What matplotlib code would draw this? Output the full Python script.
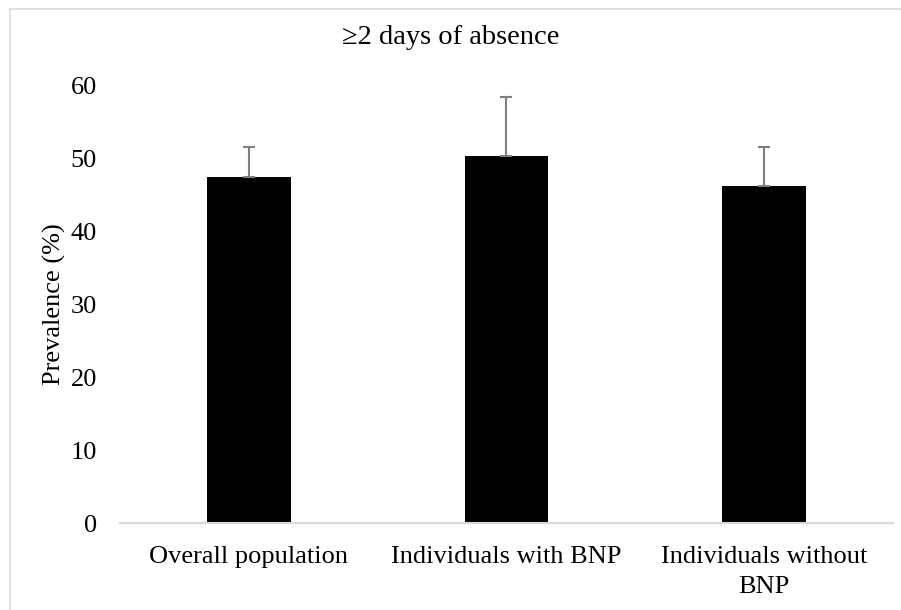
import matplotlib
matplotlib.use('Agg')
import matplotlib.pyplot as plt
from matplotlib.lines import Line2D

categories = ['Overall population', 'Individuals with BNP', 'Individuals without\nBNP']
prevalence = [47.5, 50.4, 46.3]
upper_err = [4.1, 8.1, 5.3]
y_ticks = [0, 10, 20, 30, 40, 50, 60]

plt.rcParams['font.family'] = ['Liberation Serif', 'DejaVu Serif']

W, H = 901, 610
fig = plt.figure(figsize=(W / 100, H / 100), dpi=100)
ax = fig.add_axes([120 / W, 87 / H, 773 / W, 437 / H])

# chart area border, only top and left edges show in the picture
border = dict(transform=fig.transFigure, color='#d9d9d9', linewidth=1.2)
fig.lines.append(Line2D([9.5 / W, 9.5 / W], [0, 1 - 8.5 / H], **border))
fig.lines.append(Line2D([9.5 / W, 1.01], [1 - 8.5 / H, 1 - 8.5 / H], **border))

x = range(len(categories))
ax.bar(x, prevalence, width=0.325, color='black', zorder=2)
ax.errorbar(x, prevalence, yerr=[[0] * 3, upper_err], fmt='none',
            ecolor='#7f7f7f', elinewidth=1.5, capsize=4, capthick=1.5, zorder=3)

ax.set_xlim(-0.5, 2.5)
ax.set_ylim(0, 60)
ax.set_yticks(y_ticks)
ax.set_xticks(list(x))
ax.set_xticklabels(categories, fontsize=19, linespacing=1.45)
ax.tick_params(axis='y', labelsize=19, length=0, pad=16.5)
ax.tick_params(axis='x', length=0, pad=16.5)

for s in ['top', 'right', 'left']:
    ax.spines[s].set_visible(False)
ax.spines['bottom'].set_color('#d9d9d9')
ax.spines['bottom'].set_linewidth(1.5)
ax.spines['bottom'].set_zorder(4)

ax.set_ylabel('Prevalence (%)', fontsize=19, labelpad=3.5)
fig.text(451 / W, 1 - 37 / H, '\u22652 days of absence', fontsize=20.5,
         ha='center', va='center')

fig.savefig('out.png', dpi=100)
